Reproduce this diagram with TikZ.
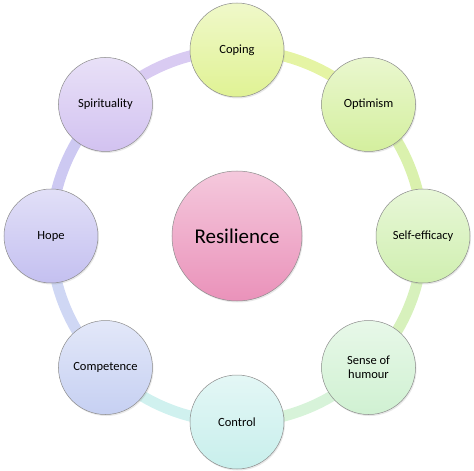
\documentclass[tikz,border=0pt]{standalone}
\usepackage{fontspec}
\setmainfont{Carlito}
\usepackage{tikz}
\usetikzlibrary{positioning,backgrounds,shadows}

\definecolor{copC}{HTML}{E0F294}
\definecolor{optC}{HTML}{D4EF9E}
\definecolor{slfC}{HTML}{D0EFB0}
\definecolor{humC}{HTML}{D0F1D2}
\definecolor{ctlC}{HTML}{C8EFEC}
\definecolor{cmpC}{HTML}{C6D0F2}
\definecolor{hopC}{HTML}{C4C0F0}
\definecolor{spiC}{HTML}{D2C2F0}
\definecolor{resC}{HTML}{EA92BA}

\begin{document}
\begin{tikzpicture}[
  x=1pt, y=1pt,
  font=\fontsize{12.5}{14}\selectfont,
  petal/.style={
    circle, draw=black!45, line width=0.5pt,
    minimum size=94pt, inner sep=1pt, align=center,
    drop shadow={opacity=0.18, shadow xshift=1pt, shadow yshift=-1.5pt},
    top color=#1!50, bottom color=#1
  },
  core/.style={
    circle, draw=black!45, line width=0.5pt,
    minimum size=130pt, inner sep=1pt,
    drop shadow={opacity=0.18, shadow xshift=1pt, shadow yshift=-1.5pt},
    top color=resC!50, bottom color=resC,
    font=\fontsize{21}{24}\selectfont
  },
  band/.style={line width=11pt, draw=#1!85, bend left=22.5, looseness=0.89}
]
\useasboundingbox (-237,-235) rectangle (237,236);

\node[core] (res) at (0,0) {Resilience};

\node[petal=copC] (cop) at (90:186)   {Coping};
\node[petal=optC] (opt) at (45:186)   {Optimism};
\node[petal=slfC] (slf) at (0:186)    {Self-efficacy};
\node[petal=humC] (hum) at (-45:186)  {Sense of\\humour};
\node[petal=ctlC] (ctl) at (-90:186)  {Control};
\node[petal=cmpC] (cmp) at (-135:186) {Competence};
\node[petal=hopC] (hop) at (180:186)  {Hope};
\node[petal=spiC] (spi) at (135:186)  {Spirituality};

% ring behind the circles
\begin{scope}[on background layer]
  \draw[band=copC] (cop.center) to (opt.center);
  \draw[band=optC] (opt.center) to (slf.center);
  \draw[band=slfC] (slf.center) to (hum.center);
  \draw[band=humC] (hum.center) to (ctl.center);
  \draw[band=ctlC] (ctl.center) to (cmp.center);
  \draw[band=cmpC] (cmp.center) to (hop.center);
  \draw[band=hopC] (hop.center) to (spi.center);
  \draw[band=spiC] (spi.center) to (cop.center);
\end{scope}

\end{tikzpicture}
\end{document}
